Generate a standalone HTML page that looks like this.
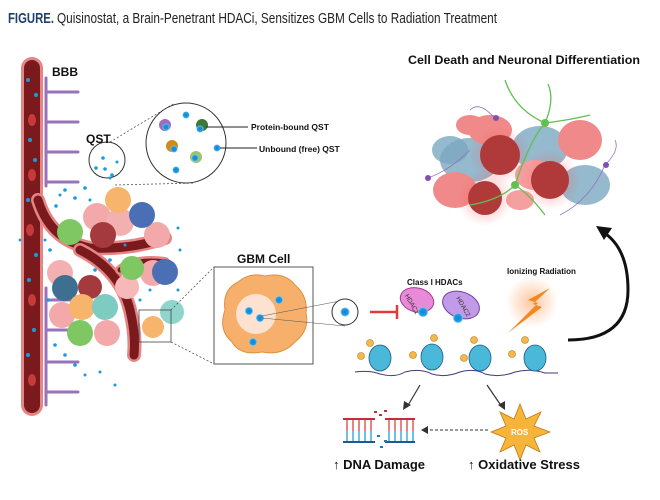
<!DOCTYPE html>
<html><head><meta charset="utf-8"><style>
html,body{margin:0;padding:0;background:#fff;}
svg{display:block;font-family:"Liberation Sans",sans-serif;}
</style></head><body>
<svg width="660" height="500" viewBox="0 0 660 500" xmlns="http://www.w3.org/2000/svg">
<defs>
<radialGradient id="glowR"><stop offset="0" stop-color="#ff5a5a" stop-opacity="0.5"/><stop offset="1" stop-color="#ff5a5a" stop-opacity="0"/></radialGradient>
<radialGradient id="glowO"><stop offset="0" stop-color="#ffa060" stop-opacity="0.6"/><stop offset="1" stop-color="#ffa060" stop-opacity="0"/></radialGradient>
<radialGradient id="dot"><stop offset="0" stop-color="#1c7fd0"/><stop offset="0.7" stop-color="#1a9be0"/><stop offset="1" stop-color="#8fd3f5"/></radialGradient>
</defs>

<text x="8" y="23" font-size="15" font-weight="bold" fill="#1f3f6e" textLength="46" lengthAdjust="spacingAndGlyphs">FIGURE.</text>
<text x="57" y="23" font-size="15" fill="#222" textLength="440" lengthAdjust="spacingAndGlyphs">Quisinostat, a Brain-Penetrant HDACi, Sensitizes GBM Cells to Radiation Treatment</text>

<!-- BBB combs -->
<g stroke="#9a72b8" stroke-width="3" fill="none" stroke-linecap="round">
<path d="M46 78 V186 M46 92 H78 M46 122 H78 M46 152 H78 M46 182 H78"/>
<path d="M46 288 V405 M46 300 H70 M46 330 H78 M46 362 H78 M46 392 H78"/>
</g>
<text x="52" y="76" font-size="12" font-weight="bold" fill="#111">BBB</text>

<!-- vessel -->
<g fill="none" stroke-linecap="round">
<path d="M32 68 V405" stroke="#e58585" stroke-width="22"/>
<path d="M32 68 V405" stroke="#7a1a1d" stroke-width="16"/>
<path d="M38 200 Q50 240 90 248 Q130 250 165 238" stroke="#e58585" stroke-width="14"/>
<path d="M38 200 Q50 240 90 248 Q130 250 165 238" stroke="#7a1a1d" stroke-width="9"/>
<path d="M80 250 Q120 270 130 310 Q136 335 134 355" stroke="#e58585" stroke-width="14"/>
<path d="M80 250 Q120 270 130 310 Q136 335 134 355" stroke="#7a1a1d" stroke-width="9"/>
<path d="M120 270 Q135 258 165 262" stroke="#e58585" stroke-width="10"/>
<path d="M120 270 Q135 258 165 262" stroke="#7a1a1d" stroke-width="5"/>
</g>
<g fill="#c63a3a"><ellipse cx="32" cy="120" rx="4" ry="6"/><ellipse cx="32" cy="175" rx="4" ry="6"/><ellipse cx="32" cy="300" rx="4" ry="6"/><ellipse cx="32" cy="380" rx="4" ry="6"/><ellipse cx="30" cy="230" rx="4" ry="6"/></g>

<!-- tumor cells -->
<g>
<circle cx="97" cy="217" r="14" fill="#f3a9a9"/><circle cx="120" cy="222" r="14" fill="#f3b0b0"/>
<circle cx="153" cy="273" r="13" fill="#f3a9a9"/><circle cx="127" cy="287" r="12" fill="#f6b8b8"/>
<circle cx="60" cy="273" r="13" fill="#f3b0b0"/><circle cx="62" cy="315" r="13" fill="#f3a9a9"/>
<circle cx="107" cy="333" r="13" fill="#f3a9a9"/><circle cx="157" cy="235" r="13" fill="#f3a9a9"/>
<circle cx="118" cy="200" r="13" fill="#f7b46c"/><circle cx="142" cy="215" r="13" fill="#4a6fb5"/>
<circle cx="70" cy="232" r="13" fill="#7fc763"/><circle cx="103" cy="235" r="13" fill="#a53a3e"/>
<circle cx="132" cy="268" r="12" fill="#7fc763"/><circle cx="165" cy="272" r="13" fill="#4a6fb5"/>
<circle cx="65" cy="288" r="13" fill="#3f6f90"/><circle cx="90" cy="287" r="12" fill="#a53a3e"/>
<circle cx="82" cy="307" r="13" fill="#f7b46c"/><circle cx="105" cy="307" r="13" fill="#7ecbc2"/>
<circle cx="80" cy="333" r="13" fill="#7fc763"/><circle cx="172" cy="312" r="12" fill="#8fd5cc"/>
<circle cx="153" cy="327" r="11" fill="#f7b46c"/>
</g>
<!-- drug dots -->
<g fill="#1a9be0">
<circle cx="65" cy="190" r="1.8"/><circle cx="75" cy="198" r="1.8"/><circle cx="85" cy="188" r="1.8"/><circle cx="56" cy="206" r="1.8"/><circle cx="90" cy="200" r="1.5"/><circle cx="60" cy="195" r="1.5"/>
<circle cx="50" cy="250" r="1.8"/><circle cx="48" cy="300" r="1.8"/><circle cx="55" cy="345" r="1.8"/><circle cx="65" cy="355" r="1.8"/><circle cx="75" cy="365" r="1.8"/><circle cx="85" cy="375" r="1.5"/><circle cx="100" cy="372" r="1.5"/><circle cx="115" cy="385" r="1.5"/>
<circle cx="178" cy="228" r="1.5"/><circle cx="180" cy="250" r="1.5"/><circle cx="178" cy="290" r="1.5"/><circle cx="150" cy="290" r="1.5"/><circle cx="110" cy="260" r="1.8"/><circle cx="95" cy="270" r="1.8"/>
<circle cx="28" cy="80" r="2"/><circle cx="36" cy="95" r="2"/><circle cx="30" cy="140" r="2"/><circle cx="35" cy="160" r="2"/><circle cx="28" cy="200" r="2"/><circle cx="36" cy="255" r="2"/><circle cx="29" cy="280" r="2"/><circle cx="34" cy="330" r="2"/><circle cx="28" cy="355" r="2"/>
<circle cx="20" cy="240" r="1.5"/><circle cx="45" cy="240" r="1.5"/><circle cx="125" cy="245" r="1.5"/><circle cx="140" cy="300" r="1.5"/>
</g>

<!-- QST zoom -->
<circle cx="107" cy="160" r="18" fill="#fff" stroke="#333" stroke-width="1"/>
<g fill="#1a9be0"><circle cx="103" cy="158" r="1.8"/><circle cx="96" cy="168" r="1.8"/><circle cx="105" cy="169" r="1.8"/><circle cx="112" cy="175" r="1.8"/><circle cx="117" cy="162" r="1.5"/><circle cx="110" cy="178" r="1.5"/></g>
<text x="86" y="143" font-size="12" font-weight="bold" fill="#111">QST</text>
<path d="M110 142 L175 103 M115 185 L195 183" stroke="#555" stroke-width="0.8" stroke-dasharray="2 2" fill="none"/>
<circle cx="186" cy="143" r="40" fill="#fff" stroke="#333" stroke-width="1"/>
<circle cx="165" cy="125" r="6" fill="#9b6cc0"/><circle cx="202" cy="125" r="6" fill="#3d7a3a"/>
<circle cx="172" cy="146" r="6" fill="#d08a1a"/><circle cx="196" cy="157" r="6" fill="#9ac46a"/>
<g fill="url(#dot)"><circle cx="166" cy="127" r="3.5"/><circle cx="200" cy="129" r="3.5"/><circle cx="174" cy="149" r="3.5"/><circle cx="195" cy="158" r="3.5"/><circle cx="186" cy="115" r="3.5"/><circle cx="217" cy="148" r="3.5"/><circle cx="176" cy="170" r="3.5"/></g>
<path d="M206 127 H248 M220 148 H257" stroke="#222" stroke-width="1"/>
<text x="251" y="130" font-size="8.5" font-weight="bold" fill="#111">Protein-bound QST</text>
<text x="259" y="152" font-size="8.5" font-weight="bold" fill="#111">Unbound (free) QST</text>

<!-- GBM zoom -->
<rect x="139" y="310" width="32" height="32" fill="none" stroke="#444" stroke-width="0.8"/>
<path d="M171 310 L214 267 M171 342 L214 364" stroke="#555" stroke-width="0.8" stroke-dasharray="2 2"/>
<text x="237" y="263" font-size="12" font-weight="bold" fill="#111">GBM Cell</text>
<rect x="214" y="267" width="99" height="97" fill="#fff" stroke="#555" stroke-width="1"/>
<path d="M225 310 Q222 290 238 282 Q250 272 265 276 Q285 272 295 285 Q308 296 306 313 Q310 330 295 342 Q282 356 262 352 Q240 356 232 342 Q218 330 225 310Z" fill="#f6b06c" stroke="#e09040" stroke-width="1"/>
<circle cx="256" cy="314" r="20" fill="#fde2d2"/>
<g fill="url(#dot)"><circle cx="249" cy="311" r="4"/><circle cx="260" cy="318" r="4"/><circle cx="279" cy="300" r="4"/><circle cx="253" cy="342" r="4"/></g>
<path d="M262 316 L345 300 M262 318 L345 326" stroke="#555" stroke-width="0.6"/>

<!-- mechanism -->
<circle cx="345" cy="312" r="13" fill="#fff" stroke="#333" stroke-width="1"/>
<circle cx="345" cy="312" r="4.5" fill="url(#dot)"/>
<path d="M370 312 H396 M397 305 V319" stroke="#e23a3a" stroke-width="2.5"/>
<text x="407" y="285" font-size="8" font-weight="bold" fill="#111">Class I HDACs</text>
<ellipse cx="417" cy="300" rx="17" ry="12" fill="#e98ad8" stroke="#a03b90" transform="rotate(15 417 300)"/>
<text x="405" y="305" font-size="6.5" fill="#333" transform="rotate(60 413 300)">HDAC1</text>
<circle cx="423" cy="312" r="5" fill="url(#dot)"/>
<ellipse cx="461" cy="305" rx="19" ry="13" fill="#c39ae8" stroke="#7040a0" transform="rotate(20 461 305)"/>
<text x="452" y="305" font-size="6.5" fill="#333" transform="rotate(60 460 305)">HDAC2</text>
<circle cx="458" cy="318" r="5" fill="url(#dot)"/>
<text x="507" y="274" font-size="8" font-weight="bold" fill="#111">Ionizing Radiation</text>
<circle cx="532" cy="302" r="26" fill="url(#glowO)"/>
<path d="M550 288 L528 300 L538 303 L508 333 L542 307 L533 304 L550 288Z" fill="#f08a20"/>
<path d="M568 340 Q628 340 628 290 Q628 248 603 232" stroke="#111" stroke-width="3" fill="none"/>
<path d="M596 226 L612 228 L604 240Z" fill="#111"/>

<!-- nucleosomes -->
<path d="M355 372 Q370 370 380 374 Q395 378 405 372 Q420 368 432 374 Q445 378 460 372 Q475 368 485 374 Q500 378 515 372 Q530 368 545 373 L558 373" stroke="#443a7a" stroke-width="1" fill="none"/>
<g fill="#4ab8d8" stroke="#1f5a8a" stroke-width="0.8">
<ellipse cx="380" cy="358" rx="11" ry="13"/><ellipse cx="432" cy="357" rx="11" ry="13"/><ellipse cx="480" cy="358" rx="11" ry="13"/><ellipse cx="535" cy="358" rx="11" ry="13"/>
</g>
<g fill="#f5b84a" stroke="#b07a20" stroke-width="0.6">
<circle cx="370" cy="343" r="3.5"/><circle cx="361" cy="356" r="3.5"/><circle cx="434" cy="338" r="3.5"/><circle cx="413" cy="355" r="3.5"/><circle cx="474" cy="340" r="3.5"/><circle cx="464" cy="358" r="3.5"/><circle cx="525" cy="340" r="3.5"/><circle cx="512" cy="354" r="3.5"/>
</g>
<path d="M420 385 L407 407" stroke="#333" stroke-width="1.2"/><path d="M403 410 L404 401 L411 405Z" fill="#333"/>
<path d="M487 385 L502 407" stroke="#333" stroke-width="1.2"/><path d="M505 410 L498 405 L505 401Z" fill="#333"/>

<!-- DNA -->
<g stroke-width="2">
<path d="M343 419 H375 M385 419 H415" stroke="#c0303a"/>
<path d="M343 442 H375 M385 442 H415" stroke="#1a5a9a"/>
<g stroke="#e05a5a" stroke-width="1.5"><path d="M347 420 V431 M353 420 V431 M359 420 V431 M365 420 V431 M371 420 V431 M389 420 V431 M395 420 V431 M401 420 V431 M407 420 V431 M413 420 V431"/></g>
<g stroke="#3ab0e0" stroke-width="1.5"><path d="M347 431 V441 M353 431 V441 M359 431 V441 M365 431 V441 M371 431 V441 M389 431 V441 M395 431 V441 M401 431 V441 M407 431 V441 M413 431 V441"/></g>
</g>
<g fill="#c0303a"><rect x="374" y="411" width="3" height="2"/><rect x="379" y="414" width="3" height="2"/><rect x="384" y="410" width="3" height="2"/></g>
<g fill="#1a7ac0"><rect x="377" y="435" width="3" height="2"/><rect x="380" y="446" width="3" height="2"/><rect x="384" y="440" width="3" height="2"/></g>
<path d="M488 430 H426" stroke="#333" stroke-width="1" stroke-dasharray="3 2"/>
<path d="M421 430 L428 426 L428 434Z" fill="#333"/>
<path d="M520 404 L526 419 L541 412 L534 426 L550 432 L534 438 L540 452 L526 445 L520 460 L514 445 L500 452 L506 438 L491 432 L506 426 L500 412 L514 419Z" fill="#f6b53a" stroke="#c07a10" stroke-width="0.8"/>
<text x="511" y="435" font-size="8" font-weight="bold" fill="#fff">ROS</text>
<text x="333" y="469" font-size="13" font-weight="bold" fill="#111">↑ DNA Damage</text>
<text x="468" y="469" font-size="13" font-weight="bold" fill="#111">↑ Oxidative Stress</text>

<!-- cell death -->
<text x="408" y="64" font-size="11.5" font-weight="bold" fill="#111" textLength="232" lengthAdjust="spacingAndGlyphs">Cell Death and Neuronal Differentiation</text>
<g>
<ellipse cx="470" cy="160" rx="30" ry="22" fill="#7aa8c0" opacity="0.8"/>
<ellipse cx="540" cy="148" rx="28" ry="22" fill="#7aa8c0" opacity="0.8"/>
<ellipse cx="585" cy="185" rx="25" ry="20" fill="#7aa8c0" opacity="0.8"/>
<ellipse cx="450" cy="150" rx="18" ry="14" fill="#7aa8c0" opacity="0.8"/>
<ellipse cx="455" cy="190" rx="22" ry="18" fill="#f08a8a"/>
<ellipse cx="490" cy="130" rx="22" ry="15" fill="#f08a8a"/>
<ellipse cx="580" cy="140" rx="22" ry="20" fill="#f08a8a"/>
<ellipse cx="535" cy="175" rx="20" ry="15" fill="#f5a0a0"/>
<ellipse cx="470" cy="125" rx="14" ry="10" fill="#f08a8a"/>
<ellipse cx="520" cy="200" rx="14" ry="10" fill="#f5a0a0"/>
<circle cx="500" cy="155" r="30" fill="url(#glowR)"/>
<circle cx="500" cy="155" r="20" fill="#b03a3a"/>
<circle cx="550" cy="180" r="30" fill="url(#glowR)"/>
<circle cx="550" cy="180" r="19" fill="#b03a3a"/>
<circle cx="485" cy="198" r="28" fill="url(#glowR)"/>
<circle cx="485" cy="198" r="17" fill="#b03a3a"/>
<g stroke="#60c050" stroke-width="1.3" fill="none"><path d="M505 80 Q515 110 545 123 Q555 100 548 84 M545 123 Q530 140 515 185 Q500 200 470 205 M515 185 Q530 195 545 215 M545 123 Q570 120 590 115"/></g>
<circle cx="545" cy="123" r="4" fill="#60c050"/><circle cx="515" cy="185" r="4" fill="#60c050"/>
<g stroke="#9070c0" stroke-width="0.8" fill="none"><path d="M428 178 Q450 170 470 150 M496 120 Q480 100 470 110 M605 165 Q590 200 560 215 M605 165 Q620 150 615 140"/></g>
<circle cx="428" cy="178" r="3" fill="#8050b0"/><circle cx="496" cy="118" r="3" fill="#8050b0"/><circle cx="606" cy="165" r="3" fill="#8050b0"/>
</g>
</svg>
</body></html>
